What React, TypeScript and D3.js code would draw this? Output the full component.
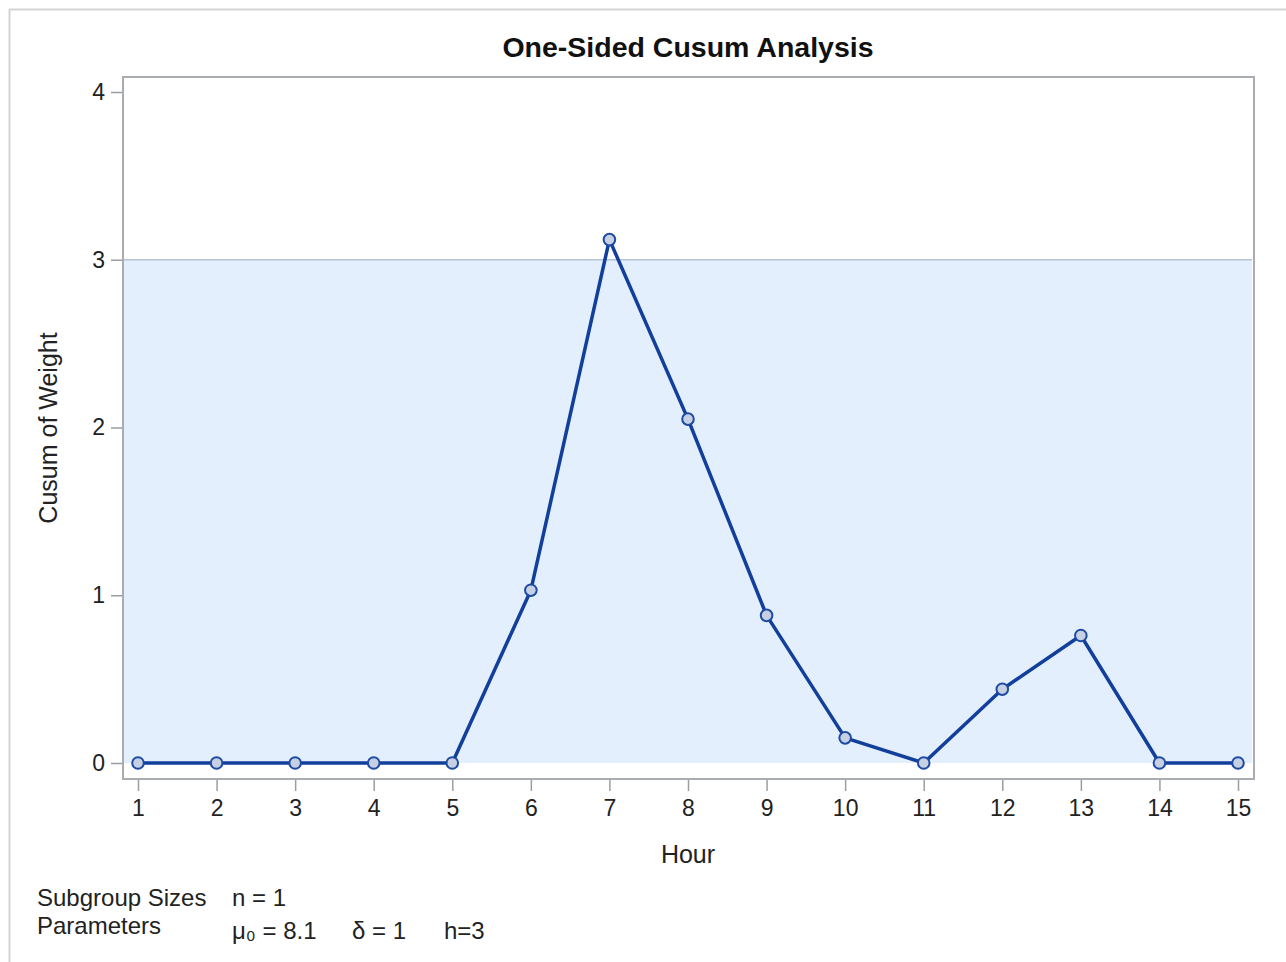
import React, { useEffect, useRef } from 'react';
import * as d3 from 'd3';

const hours = [1, 2, 3, 4, 5, 6, 7, 8, 9, 10, 11, 12, 13, 14, 15];
const cusum = [0, 0, 0, 0, 0, 1.03, 3.12, 2.05, 0.88, 0.15, 0, 0.44, 0.76, 0, 0];
const yTicks = [0, 1, 2, 3, 4];
const decisionLimit = 3;
const footRows = [
  { label: 'Subgroup Sizes', values: ['n = 1'] },
  { label: 'Parameters', values: ['μ₀ = 8.1', 'δ = 1', 'h=3'] },
];

const W = 1286;
const H = 962;
const font = '"Liberation Sans", Arial, sans-serif';

const App: React.FC = () => {
  const svgRef = useRef<SVGSVGElement>(null);

  useEffect(() => {
    if (!svgRef.current) return;
    const svg = d3.select(svgRef.current);
    svg.selectAll('*').remove();

    const plot = { left: 123, top: 77, right: 1254, bottom: 779 };

    // outer frame
    svg.append('rect')
      .attr('x', 9.5).attr('y', 9.5)
      .attr('width', W + 20).attr('height', H + 20)
      .attr('fill', 'white')
      .attr('stroke', '#d4d4d4')
      .attr('stroke-width', 2);

    const x = d3.scaleLinear().domain([1, 15]).range([138, 1238]);
    const y = d3.scaleLinear().domain([0, 4]).range([763, 92]);

    // band between 0 and h
    svg.append('rect')
      .attr('x', plot.left + 1)
      .attr('y', y(decisionLimit))
      .attr('width', plot.right - plot.left - 3)
      .attr('height', y(0) - y(decisionLimit))
      .attr('fill', '#e3effd');

    svg.append('line')
      .attr('x1', plot.left).attr('x2', plot.right - 2)
      .attr('y1', y(decisionLimit)).attr('y2', y(decisionLimit))
      .attr('stroke', '#b7c3d3').attr('stroke-width', 1.5);

    // plot frame
    svg.append('rect')
      .attr('x', plot.left).attr('y', plot.top)
      .attr('width', plot.right - plot.left).attr('height', plot.bottom - plot.top)
      .attr('fill', 'none')
      .attr('stroke', '#a9adb2')
      .attr('stroke-width', 2);

    // y axis
    const yAxis = svg.append('g')
      .attr('transform', `translate(${plot.left - 1},0)`)
      .call(d3.axisLeft(y).tickValues(yTicks).tickSize(11).tickPadding(6).tickFormat(d3.format('d')));
    yAxis.select('.domain').remove();
    yAxis.selectAll('line').attr('stroke', '#9a9ea3').attr('stroke-width', 1.5);
    yAxis.selectAll('text')
      .attr('font-family', font).attr('font-size', 23).attr('fill', '#222');

    // x axis
    const xAxis = svg.append('g')
      .attr('transform', `translate(0,${plot.bottom + 1})`)
      .call(d3.axisBottom(x).tickValues(hours).tickSize(11).tickPadding(9).tickFormat(d3.format('d')));
    xAxis.select('.domain').remove();
    xAxis.selectAll('line').attr('stroke', '#9a9ea3').attr('stroke-width', 1.5);
    xAxis.selectAll('text')
      .attr('font-family', font).attr('font-size', 23).attr('fill', '#222');

    // series
    const line = d3.line<number>()
      .x((_, i) => x(hours[i]))
      .y(d => y(d));

    svg.append('path')
      .datum(cusum)
      .attr('fill', 'none')
      .attr('stroke', '#123f9c')
      .attr('stroke-width', 3.5)
      .attr('stroke-linejoin', 'round')
      .attr('d', line);

    svg.append('g').selectAll('circle')
      .data(cusum)
      .join('circle')
      .attr('cx', (_, i) => x(hours[i]))
      .attr('cy', d => y(d))
      .attr('r', 5.8)
      .attr('fill', '#c6d0e2')
      .attr('stroke', '#1d4aa3')
      .attr('stroke-width', 2);

    // title
    svg.append('text')
      .attr('x', 688).attr('y', 57)
      .attr('text-anchor', 'middle')
      .attr('font-family', font).attr('font-size', 28.5).attr('font-weight', 'bold')
      .attr('fill', '#111')
      .text('One-Sided Cusum Analysis');

    // axis labels
    svg.append('text')
      .attr('x', 688).attr('y', 863)
      .attr('text-anchor', 'middle')
      .attr('font-family', font).attr('font-size', 25).attr('fill', '#222')
      .text('Hour');

    svg.append('text')
      .attr('transform', `translate(57,428) rotate(-90)`)
      .attr('text-anchor', 'middle')
      .attr('font-family', font).attr('font-size', 25).attr('fill', '#222')
      .text('Cusum of Weight');

    // footnote table
    const valueX = [232, 352, 444];
    footRows.forEach((row, r) => {
      const base = r === 0 ? 906 : 934;
      svg.append('text')
        .attr('x', 37).attr('y', base)
        .attr('font-family', font).attr('font-size', 24).attr('fill', '#222')
        .text(row.label);
      row.values.forEach((v, k) => {
        svg.append('text')
          .attr('x', valueX[k]).attr('y', r === 0 ? base : base + 5)
          .attr('font-family', font).attr('font-size', 24).attr('fill', '#222')
          .text(v);
      });
    });
  }, []);

  return (
    <svg
      ref={svgRef}
      width={W}
      height={H}
      style={{ position: 'absolute', left: 0, top: 0, background: 'white' }}
    />
  );
};

export default App;
